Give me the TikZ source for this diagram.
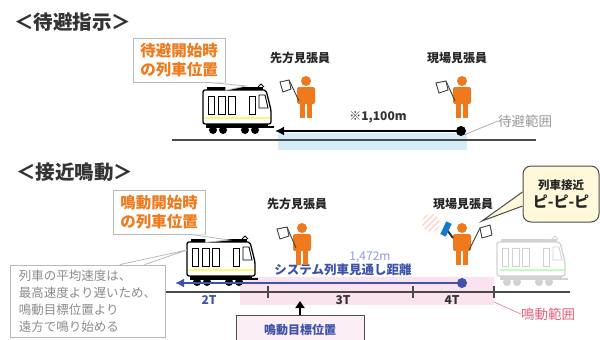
\documentclass[tikz,border=0pt]{standalone}
\usepackage{fontspec}
\setmainfont{Noto Sans CJK JP}
\usetikzlibrary{calc,arrows.meta}

\definecolor{guardorange}{HTML}{EE7A1D}
\definecolor{systemblue}{HTML}{3D52A8}
\definecolor{lightblue}{HTML}{8C9BE0}
\definecolor{waitband}{HTML}{D4EDF9}
\definecolor{alarmband}{HTML}{FAE3EE}
\definecolor{alarmred}{HTML}{E0607A}
\definecolor{bubbleyellow}{HTML}{FFF8DA}
\definecolor{trackgray}{HTML}{4A4A4A}

\tikzset{
  title/.style={font=\fontsize{19.5}{19.5}\selectfont\bfseries, text=black!80, inner sep=0},
  guardlabel/.style={font=\fontsize{12}{12}\selectfont\bfseries, text=black!85, inner sep=0},
  startbox/.style={draw=gray!55, fill=white, line width=0.8, minimum width=92, minimum height=44,
    align=center, text=guardorange, font=\fontsize{15.5}{19}\selectfont\bfseries},
  notebox/.style={draw=gray!55, fill=white, line width=0.8, minimum width=155, minimum height=72,
    align=left, text=gray!90, font=\fontsize{12.5}{17}\selectfont},
  targetbox/.style={draw=black!70, fill=alarmband!60, line width=0.8, minimum width=128, minimum height=30,
    text=systemblue, font=\fontsize{12}{12}\selectfont\bfseries},
  bubble/.style={draw=black!70, fill=bubbleyellow, line width=1, rounded corners=8, minimum width=76,
    minimum height=56, align=center, text=black!85},
  rangelabel/.style={font=\fontsize{13.5}{13.5}\selectfont, inner sep=0},
  blocklabel/.style={font=\fontsize{12}{12}\selectfont\bfseries, inner sep=0},
  track/.style={trackgray, line width=1.6},
  tick/.style={trackgray, line width=1.4},
  enddot/.style={circle, fill, inner sep=0, minimum size=10},
  flagline/.style={black!75, line width=0.9, fill=white},
  pics/guard/.style={code={
    \fill[guardorange] (0,5) circle (5);
    \fill[guardorange, rounded corners=2] (-9,11) rectangle (9,28);
    \fill[guardorange] (-6,26) rectangle (-0.8,42);
    \fill[guardorange] (0.8,26) rectangle (6,42);
  }},
  pics/train/.style n args={2}{code={
    % roof and pantograph
    \fill[#1] (4,1) rectangle (60,5);
    \draw[#1, line width=0.9] (55,1) -- (58,-2) -- (61,1);
    % body
    \draw[#1, fill=white, line width=1.3, rounded corners=2] (0,4) -- (0,38) -- (68,38) -- (68,24) -- (63,4) -- cycle;
    \draw[#1, line width=0.9] (5,10) rectangle (11,28);
    \draw[#1, line width=0.9] (15,10) rectangle (22,28);
    \draw[#1, line width=0.9] (25,10) rectangle (32,28);
    \draw[#1, line width=0.9] (46,10) rectangle (52,28);
    \draw[#1, line width=0.9] (56,9) -- (62,9) -- (65,22) -- (56,22) -- cycle;
    \draw[#2, line width=1.6] (1.5,32) -- (66.5,32);
    % underframe and wheels
    \fill[#1] (3,38) rectangle (65,42);
    \draw[#1, line width=1.4] (65,41) -- (71,41);
    \foreach \wx in {10,20,42,52} \fill[#1] (\wx,44) circle (4);
  }}
}

\begin{document}
\begin{tikzpicture}[x=1pt,y=-1pt]
\useasboundingbox (0,0) rectangle (600,340);

% ---------- waiting instruction ----------
\node[title, anchor=west](waitTitle) at (14,22){＜待避指示＞};

\fill[waitband] (278,133) rectangle (467,150);
\draw[track] (172,140) -- (536,140);

\pic at (203,86) {train={black}{yellow!55}};
\coordinate (train1Roof) at (246,86);

\node[startbox](waitStartBox) at (179,60){待避開始時\\の列車位置};
\fill[white] ([xshift=-17]waitStartBox.south east) -- (train1Roof) -- ([yshift=-8]waitStartBox.south east) -- (waitStartBox.south east) -- cycle;
\draw[gray!55, line width=0.8] ([xshift=-17]waitStartBox.south east) -- (train1Roof) -- ([yshift=-8]waitStartBox.south east);

\node[enddot, black](waitDot) at (461,131){};
\coordinate (waitArrowEnd) at (275,131);
\draw[black, line width=2.6, -{Latex[length=9,width=9]}] (waitDot.center) -- (waitArrowEnd);
\node[font=\fontsize{12}{12}\selectfont\bfseries, text=black!80, inner sep=0](waitDist) at (378,117){※1,100m};

\node[rangelabel, text=gray!80](waitRange) at (525,121){待避範囲};
\draw[gray!70, line width=0.7] (waitDot.south east) -- (waitRange.west);

\pic at (306,76) {guard};
\draw[flagline] (299,101) -- (289,80);
\draw[flagline] (289,80) -- (280,82) -- (283,92) -- (291,89) -- cycle;
\node[guardlabel](waitAheadLabel) at (300,58){先方見張員};

\pic at (462,76) {guard};
\draw[flagline] (455,101) -- (446,81);
\draw[flagline] (446,81) -- (436,83) -- (439,93) -- (448,90) -- cycle;
\node[guardlabel](waitSiteLabel) at (457,58){現場見張員};

% ---------- approach alarm ----------
\node[title, anchor=west](alarmTitle) at (16,172){＜接近鳴動＞};

\fill[alarmband] (240,277) rectangle (494,305);
\draw[track] (165,292) -- (570,292);
\foreach \tx in {268,413,494} \draw[tick] (\tx,286) -- (\tx,298);

\pic at (497,238) {train={gray!35}{green!25}};
\pic at (187,238) {train={black}{yellow!55}};
\coordinate (train2Roof) at (229,240);
\coordinate (train2Side) at (187,250);

\node[enddot, systemblue](alarmDot) at (462,283){};
\coordinate (alarmArrowEnd) at (175,283);
\draw[systemblue, line width=2.8, -{Latex[length=9,width=9]}] (alarmDot.center) -- (alarmArrowEnd);

\node[font=\fontsize{12}{12}\selectfont, text=lightblue, inner sep=0](alarmDist) at (370,257){1,472m};
\node[font=\fontsize{12.5}{12.5}\selectfont\bfseries, text=systemblue, inner sep=0](sightLabel) at (343,270){システム列車見通し距離};

\node[blocklabel, text=systemblue](block2) at (209,300){2T};
\node[blocklabel, text=black!80](block3) at (343,300){3T};
\node[blocklabel, text=black!80](block4) at (452,300){4T};

\node[rangelabel, text=alarmred](alarmRange) at (548,314){鳴動範囲};
\draw[alarmred!80, line width=0.7] (494,302) -- (alarmRange.west);

\node[startbox](alarmStartBox) at (159,212){鳴動開始時\\の列車位置};
\fill[white] ([xshift=-15]alarmStartBox.south east) -- (train2Roof) -- ([yshift=-8]alarmStartBox.south east) -- (alarmStartBox.south east) -- cycle;
\draw[gray!55, line width=0.8] ([xshift=-15]alarmStartBox.south east) -- (train2Roof) -- ([yshift=-8]alarmStartBox.south east);

\node[notebox](noteBox) at (87.5,301){列車の平均速度は、\\最高速度より遅いため、\\鳴動目標位置より\\遠方で鳴り始める};
\fill[white] ([xshift=110]noteBox.north west) -- (train2Side) -- ([xshift=135]noteBox.north west) -- cycle;
\draw[gray!55, line width=0.8] ([xshift=110]noteBox.north west) -- (train2Side) -- ([xshift=135]noteBox.north west);

\node[targetbox](targetBox) at (300,330){鳴動目標位置};
\coordinate (targetPoint) at (300,301);
\draw[black, line width=2.2, -{Triangle[length=7,width=9]}] (targetBox.north) -- (targetPoint);

\pic at (302,223) {guard};
\draw[flagline] (296,248) -- (287,227);
\draw[flagline] (287,227) -- (277,229) -- (280,239) -- (289,236) -- cycle;
\node[guardlabel](alarmAheadLabel) at (297,204){先方見張員};

% hatched sound mark behind the phone
\begin{scope}
  \clip (431,223) circle (9);
  \foreach \d in {-24,-18,...,24} \draw[pink!80, line width=1.1] (421+\d,233) -- (441+\d,213);
\end{scope}
\pic at (462,223) {guard};
\draw[black!80, line width=2] (453,238) -- (447,230);
\fill[cyan!60!blue, rotate around={-25:(446,229)}] (443,222) rectangle (449,236);
\draw[flagline] (469,250) -- (480,228);
\draw[flagline] (480,228) -- (490,225) -- (492,235) -- (482,238) -- cycle;
\node[guardlabel](alarmSiteLabel) at (463,204){現場見張員};
\coordinate (siteFlagTop) at (482,221);

\node[bubble](alarmBubble) at (561,194){{\fontsize{11.5}{11.5}\selectfont\bfseries 列車接近}\\[3pt]{\fontsize{15}{15}\selectfont\bfseries ピ-ピ-ピ}};
\fill[bubbleyellow] ([yshift=2]alarmBubble.west) -- (siteFlagTop) -- ([yshift=-12]alarmBubble.west) -- cycle;
\draw[black!70, line width=1] ([yshift=2]alarmBubble.west) -- (siteFlagTop) -- ([yshift=-12]alarmBubble.west);

\end{tikzpicture}
\end{document}
